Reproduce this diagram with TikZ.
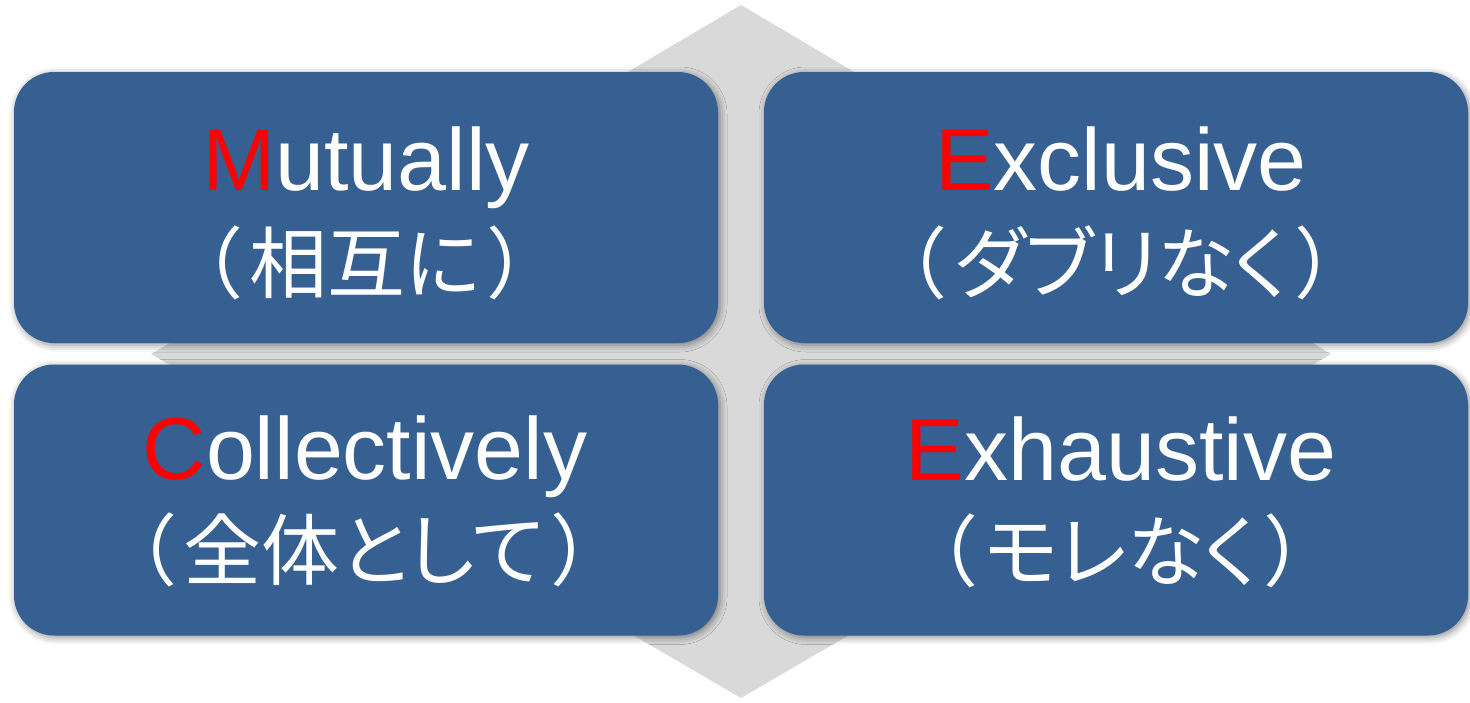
\documentclass[tikz,border=0pt]{standalone}
\usepackage{fontspec}
\setmainfont{Liberation Sans}
\newfontfamily\cjk[RawFeature=+palt]{Noto Sans CJK JP}
\usetikzlibrary{shadows.blur}
\definecolor{boxblue}{HTML}{376092}
\definecolor{diamondgray}{HTML}{D9D9D9}
\definecolor{initred}{HTML}{FF0000}
\newcommand{\jopen}{（\kern9pt}
\newcommand{\jclose}{\kern9pt）}
\tikzset{
  quad/.style={fill=boxblue, rounded corners=40pt, minimum width=704pt, minimum height=271pt, inner sep=0pt,
    blur shadow={shadow xshift=2pt, shadow yshift=-2pt, shadow blur radius=7pt, shadow opacity=45}},
  enword/.style={text=white, anchor=base, inner sep=0pt, font=\fontsize{88}{96}\selectfont},
  jaword/.style={text=white, anchor=center, inner sep=0pt, font=\cjk\fontsize{78}{90}\selectfont},
}
\begin{document}
\begin{tikzpicture}[x=1pt,y=-1pt]
\useasboundingbox (0,0) rectangle (1470,702);
\fill[diamondgray] (741,5) -- (1331,354) -- (741,698) -- (151,354) -- cycle;
\node[quad] (tl) at (366,207.5) {};
\node[quad] (tr) at (1116,207.5) {};
\node[quad] (bl) at (366,500) {};
\node[quad] (br) at (1116,500) {};
\node[enword] (tlen) at (366,190) {\textcolor{initred}{M}utually};
\node[jaword] (tlja) at (365,263) {\jopen 相互に\jclose};
\node[enword] (tren) at (1121,190) {\textcolor{initred}{E}xclusive};
\node[jaword] (trja) at (1121,263) {\jopen ダブリなく\jclose};
\node[enword] (blen) at (365,479) {\textcolor{initred}{C}ollectively};
\node[jaword] (blja) at (364,550) {\jopen 全体として\jclose};
\node[enword] (bren) at (1121,480) {\textcolor{initred}{E}xhaustive};
\node[jaword] (brja) at (1121,551) {\jopen モレなく\jclose};
\end{tikzpicture}
\end{document}
